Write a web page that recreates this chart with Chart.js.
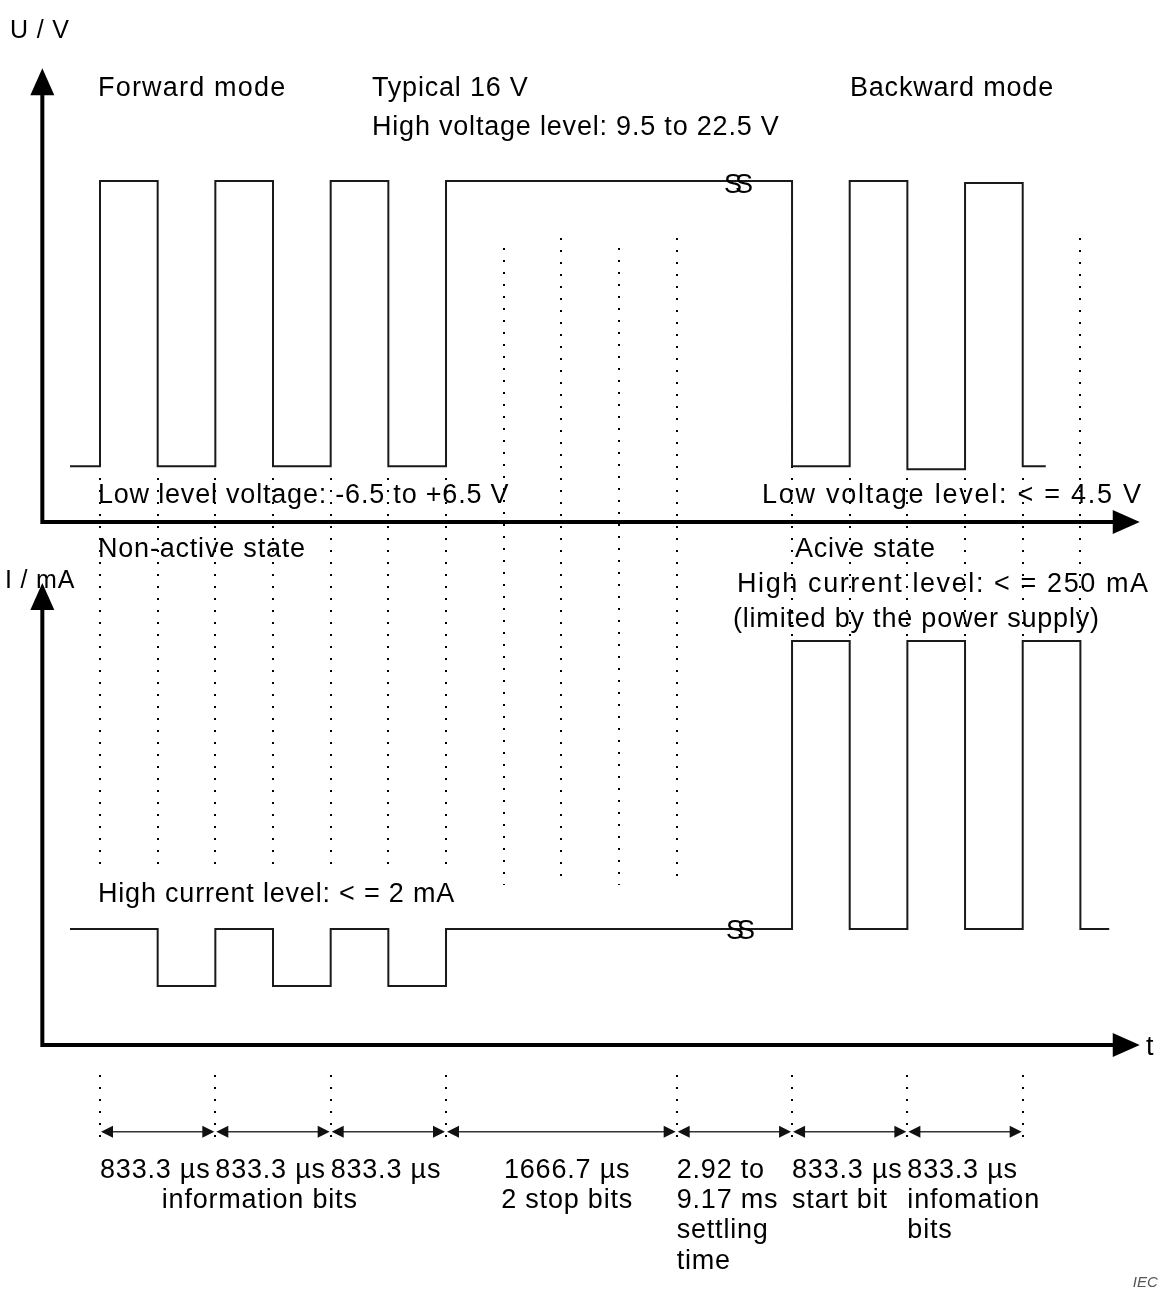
<!DOCTYPE html>
<html>
<head>
<meta charset="utf-8">
<title>Forward and backward mode signalling</title>
<script src="https://cdn.jsdelivr.net/npm/chart.js@4.4.1/dist/chart.umd.min.js"></script>
<style>
    body { margin: 0; background: #fff; }
    #wrap { width: 1161px; height: 1291px; position: relative; }
</style>
</head>
<body>
<div id="wrap"><canvas id="myChart"></canvas></div>
<script>
// time axis in half-bit units (1 unit = 416.7 us); 10..12 is the shortened settling gap
const uTimes  = [-0.52, 0, 1, 2, 3, 4, 5, 6, 12, 13, 14, 15, 16, 16.4];
const uLevels = [0.164, 1, 0.164, 1, 0.164, 1, 0.164, 1, 0.164, 1, 0.155, 0.994, 0.164, 0.164];

const iTimes  = [-0.52, 1, 2, 3, 4, 5, 6, 12, 13, 14, 15, 16, 17, 17.5];
const iLevels = [0.287, 0.146, 0.287, 0.146, 0.287, 0.146, 0.287, 1, 0.287, 1, 0.287, 1, 0.287, 0.287];

// timing bar under the plot
const segBounds = [0, 2, 4, 6, 10, 12, 14, 16];
const segLabels = [
    ['833.3 µs'], ['833.3 µs'], ['833.3 µs'],
    ['1666.7 µs', '2 stop bits'],
    ['2.92 to', '9.17 ms', 'settling', 'time'],
    ['833.3 µs', 'start bit'],
    ['833.3 µs', 'infomation', 'bits']
];

const FONT = '"Liberation Sans", Arial, sans-serif';

function toPoints(xs, ys) {
    return xs.map((x, i) => ({ x: x, y: ys[i] }));
}

// texts: x in time units, y in the value of the named axis
const texts = [
    { t: 'U / V', x: -1.56, y: 1.419, ax: 'yU', size: 25 },
    { t: 'Forward mode', x: -0.035, y: 1.249, ax: 'yU', sp: 1.2 },
    { t: 'Typical 16 V', x: 4.716, y: 1.249, ax: 'yU' },
    { t: 'High voltage level: 9.5 to 22.5 V', x: 4.716, y: 1.135, ax: 'yU' },
    { t: 'Backward mode', x: 13.005, y: 1.249, ax: 'yU' },
    { t: 'Low level voltage: -6.5 to +6.5 V', x: -0.035, y: 0.056, ax: 'yU' },
    { t: 'Low voltage level: < = 4.5 V', x: 11.48, y: 0.056, ax: 'yU', sp: 1.75 },
    { t: 'Non-active state', x: -0.035, y: -0.103, ax: 'yU' },
    { t: 'Acive state', x: 12.05, y: -0.103, ax: 'yU' },
    { t: 'I / mA', x: -1.647, y: 1.131, ax: 'yI', size: 25 },
    { t: 'High current level: < = 250 mA', x: 11.046, y: 1.121, ax: 'yI', sp: 1.6 },
    { t: '(limited by the power supply)', x: 10.976, y: 1.035, ax: 'yI' },
    { t: 'High current level: < = 2 mA', x: -0.035, y: 0.354, ax: 'yI' },
    { t: 't', x: 18.14, y: -0.025, ax: 'yI' }
];

// dotted guide lines
const guides = [
    { times: [0, 1, 2, 3, 4, 5, 6], from: ['yU', 0.129], to: ['yI', 0.433] },
    { times: [7, 9], from: ['yU', 0.804], to: ['yI', 0.396] },
    { times: [8, 10], from: ['yU', 0.833], to: ['yI', 0.408] },
    { times: [12], from: ['yU', 0.833], to: ['yI', 1.0] },
    { times: [13, 14, 15, 16], from: ['yU', 0.129], to: ['yI', 1.0] },
    { times: [17], from: ['yU', 0.833], to: ['yI', 1.03] },
    { times: segBounds, from: ['yI', -0.074], to: ['yI', -0.235] }
];

function head(ctx, x, y, dir, len, half) {
    ctx.beginPath();
    ctx.moveTo(x, y);
    if (dir == 'up') {
        ctx.lineTo(x - half, y + len);
        ctx.lineTo(x + half, y + len);
    } else if (dir == 'right') {
        ctx.lineTo(x - len, y - half);
        ctx.lineTo(x - len, y + half);
    } else {
        ctx.lineTo(x + len, y - half);
        ctx.lineTo(x + len, y + half);
    }
    ctx.closePath();
    ctx.fill();
}

const diagram = {
    id: 'diagram',
    beforeDatasetsDraw(chart) {
        const ctx = chart.ctx;
        const sx = chart.scales.x;
        ctx.save();
        ctx.strokeStyle = '#000';
        ctx.lineWidth = 2;
        ctx.setLineDash([2, 10]);
        guides.forEach(g => {
            const y1 = chart.scales[g.from[0]].getPixelForValue(g.from[1]);
            const y2 = chart.scales[g.to[0]].getPixelForValue(g.to[1]);
            g.times.forEach(t => {
                const x = Math.round(sx.getPixelForValue(t));
                ctx.beginPath();
                ctx.moveTo(x, y1);
                ctx.lineTo(x, y2);
                ctx.stroke();
            });
        });
        ctx.restore();
    },
    afterDatasetsDraw(chart) {
        const ctx = chart.ctx;
        const sx = chart.scales.x, yU = chart.scales.yU, yI = chart.scales.yI;
        ctx.save();
        ctx.fillStyle = '#000';
        ctx.strokeStyle = '#000';

        // axes with arrows
        ctx.lineWidth = 4;
        const ax = sx.getPixelForValue(-1);
        const tipX = sx.getPixelForValue(18.03);
        [[yU, 1.331], [yI, 1.144]].forEach(([s, top]) => {
            const y0 = s.getPixelForValue(0);
            const yt = s.getPixelForValue(top);
            ctx.beginPath();
            ctx.moveTo(ax, y0);
            ctx.lineTo(ax, yt + 20);
            ctx.moveTo(ax - 2, y0);
            ctx.lineTo(tipX - 20, y0);
            ctx.stroke();
            head(ctx, ax, yt, 'up', 27, 12);
            head(ctx, tipX, y0, 'right', 27, 12);
        });

        // timing arrows
        const ya = yI.getPixelForValue(-0.215);
        ctx.lineWidth = 1.5;
        ctx.strokeStyle = '#333';
        ctx.fillStyle = '#111';
        for (let i = 0; i < segBounds.length - 1; i++) {
            const a = sx.getPixelForValue(segBounds[i]);
            const b = sx.getPixelForValue(segBounds[i + 1]);
            ctx.beginPath();
            ctx.moveTo(a + 4, ya);
            ctx.lineTo(b - 4, ya);
            ctx.stroke();
            head(ctx, a + 1, ya, 'left', 12, 6);
            head(ctx, b - 1, ya, 'right', 12, 6);
        }

        // texts
        ctx.fillStyle = '#000';
        ctx.textBaseline = 'alphabetic';
        texts.forEach(o => {
            ctx.font = (o.size || 27) + 'px ' + FONT;
            ctx.letterSpacing = (o.sp || 0.8) + 'px';
            ctx.textAlign = o.align || 'left';
            ctx.fillText(o.t, sx.getPixelForValue(o.x), chart.scales[o.ax].getPixelForValue(o.y));
        });

        // timing labels, left on the segment start; the stop bits one is centred
        ctx.font = '27px ' + FONT;
        ctx.letterSpacing = '0.8px';
        const rows = [-0.329, -0.403, -0.478, -0.554];
        segLabels.forEach((lines, i) => {
            lines.forEach((ln, r) => {
                let x = sx.getPixelForValue(segBounds[i]);
                ctx.textAlign = 'left';
                if (i == 3) {
                    x = sx.getPixelForValue(8.1);
                    ctx.textAlign = 'center';
                }
                ctx.fillText(ln, x, yI.getPixelForValue(rows[r]));
            });
        });
        ctx.textAlign = 'center';
        ctx.fillText('information bits', sx.getPixelForValue(2.77), yI.getPixelForValue(rows[1]));

        // break marks
        ctx.letterSpacing = '0px';
        [[11.063, yU, 0.965], [11.098, yI, 0.262]].forEach(([t, s, v]) => {
            const cx = sx.getPixelForValue(t), cy = s.getPixelForValue(v);
            ctx.textAlign = 'center';
            ctx.fillText('S', cx - 5, cy);
            ctx.fillText('S', cx + 6, cy);
        });

        // source tag
        ctx.font = 'italic 15px ' + FONT;
        ctx.fillStyle = '#555';
        ctx.textAlign = 'left';
        ctx.fillText('IEC', sx.getPixelForValue(17.91), yI.getPixelForValue(-0.599));
        ctx.restore();
    }
};

const ctx = document.getElementById('myChart');
const myChart = new Chart(ctx, {
    type: 'line',
    data: {
        datasets: [{
            label: 'U',
            data: toPoints(uTimes, uLevels),
            yAxisID: 'yU',
            stepped: true,
            borderColor: '#1a1a1a',
            borderWidth: 2,
            pointRadius: 0
        }, {
            label: 'I',
            data: toPoints(iTimes, iLevels),
            yAxisID: 'yI',
            stepped: true,
            borderColor: '#1a1a1a',
            borderWidth: 2,
            pointRadius: 0
        }]
    },
    options: {
        responsive: true,
        maintainAspectRatio: false,
        animation: false,
        layout: { padding: 0 },
        plugins: {
            legend: { display: false },
            tooltip: { enabled: false }
        },
        scales: {
            x: { type: 'linear', min: -1.734, max: 18.398, display: false },
            yU: { type: 'linear', min: -2.255, max: 1.531, display: false },
            yI: { type: 'linear', min: -0.609, max: 2.587, display: false }
        }
    },
    plugins: [diagram]
});
</script>
</body>
</html>
